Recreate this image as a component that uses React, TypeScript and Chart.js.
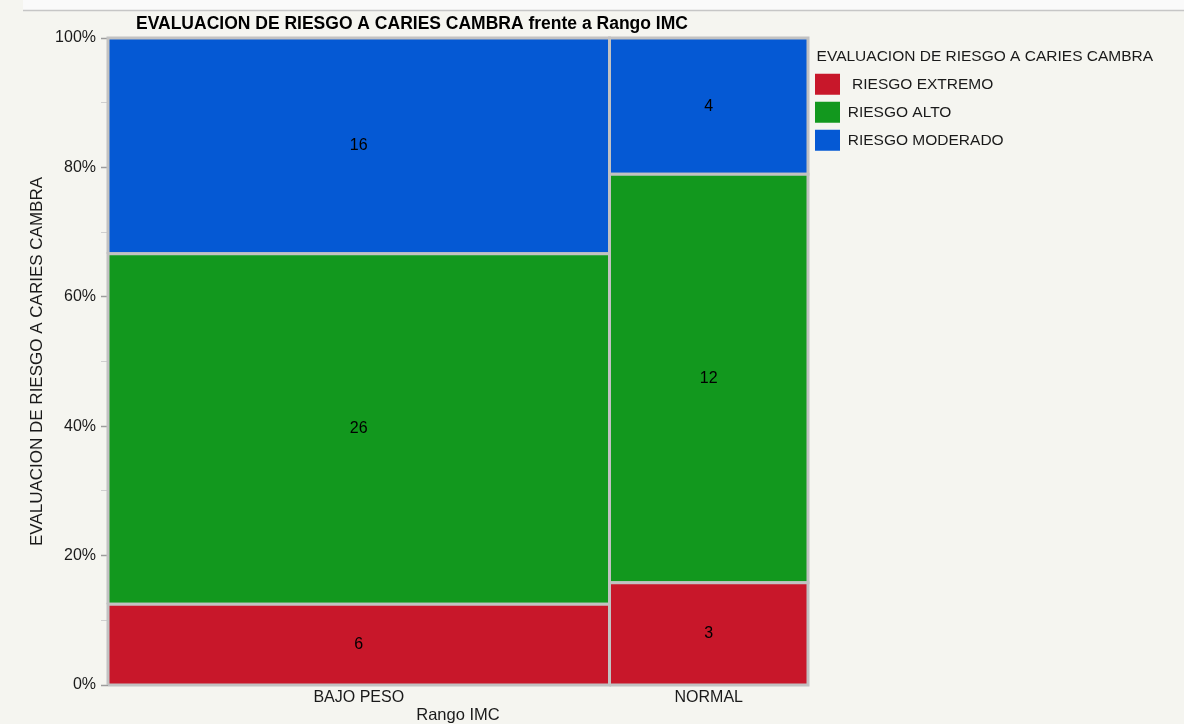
import { useEffect, useRef } from 'react';
import { Chart, registerables } from 'chart.js';

Chart.register(...registerables);

// ---- data ----
const chartTitle = 'EVALUACION DE RIESGO A CARIES CAMBRA frente a Rango IMC';
const xAxisTitle = 'Rango IMC';
const yAxisTitle = 'EVALUACION DE RIESGO A CARIES CAMBRA';
const legendTitle = 'EVALUACION DE RIESGO A CARIES CAMBRA';
const categories = ['BAJO PESO', 'NORMAL'];
const riskLevels = [' RIESGO EXTREMO', 'RIESGO ALTO', 'RIESGO MODERADO'];
const riesgoExtremo = [6, 3];
const riesgoAlto = [26, 12];
const riesgoModerado = [16, 4];
const riskColors = ['#c8172a', '#12981e', '#0559d4'];
const yTickValues = [0, 20, 40, 60, 80, 100];

const FONT = "'Liberation Sans', Arial, Helvetica, sans-serif";
const series = [riesgoExtremo, riesgoAlto, riesgoModerado];

type Cell = { x0: number; x1: number; y0: number; y1: number; count: number; level: number };

function buildCells(): { cells: Cell[]; centers: number[]; grand: number } {
  const totals = categories.map((_, i) => series.reduce((s, arr) => s + arr[i], 0));
  const grand = totals.reduce((a, b) => a + b, 0);
  const cells: Cell[] = [];
  const centers: number[] = [];
  let xCursor = 0;
  categories.forEach((_, i) => {
    const x0 = xCursor;
    const x1 = xCursor + totals[i];
    centers.push((x0 + x1) / 2);
    let yCursor = 0;
    series.forEach((arr, j) => {
      const pct = (arr[i] / totals[i]) * 100;
      cells.push({ x0, x1, y0: yCursor, y1: yCursor + pct, count: arr[i], level: j });
      yCursor += pct;
    });
    xCursor = x1;
  });
  return { cells, centers, grand };
}

export default function App() {
  const ref = useRef<HTMLCanvasElement>(null);

  useEffect(() => {
    document.body.style.margin = '0';
    document.body.style.background = '#f5f5f0';
    document.body.style.overflow = 'hidden';

    const { cells, centers, grand } = buildCells();

    const datasets = cells.map((c) => ({
      label: riskLevels[c.level],
      data: [
        { x: c.x0, y: c.y0 },
        { x: c.x1, y: c.y0 },
        { x: c.x1, y: c.y1 },
        { x: c.x0, y: c.y1 },
        { x: c.x0, y: c.y0 },
      ],
      showLine: true,
      fill: 'shape',
      backgroundColor: riskColors[c.level],
      borderColor: '#c2c2c2',
      borderWidth: 3,
      pointRadius: 0,
      tension: 0,
      clip: 4,
    }));

    const bgPlugin = {
      id: 'bgPlugin',
      beforeDraw(chart: any) {
        const { ctx, width, height } = chart;
        ctx.save();
        ctx.fillStyle = '#f5f5f0';
        ctx.fillRect(0, 0, width, height);
        ctx.fillStyle = '#fafafa';
        ctx.fillRect(23, 0, width - 23, 10);
        ctx.strokeStyle = '#c6c6c6';
        ctx.lineWidth = 1.5;
        ctx.beginPath();
        ctx.moveTo(23, 10.5);
        ctx.lineTo(width, 10.5);
        ctx.stroke();
        ctx.restore();
      },
    };

    // widen the legend box so its long title is not clipped
    const legendWidth = {
      id: 'legendWidth',
      beforeLayout(chart: any) {
        const lg = chart.legend;
        if (lg && !lg.__widened) {
          const orig = lg.fit.bind(lg);
          lg.fit = function () {
            orig();
            this.width = 376;
          };
          lg.__widened = true;
        }
      },
    };

    const titlePlugin = {
      id: 'titlePlugin',
      afterDraw(chart: any) {
        const { ctx } = chart;
        ctx.save();
        ctx.font = `bold 17.5px ${FONT}`;
        ctx.fillStyle = '#000000';
        ctx.textAlign = 'left';
        ctx.textBaseline = 'middle';
        ctx.fillText(chartTitle, 136, 24);
        ctx.restore();
      },
    };

    const cellLabels = {
      id: 'cellLabels',
      afterDatasetsDraw(chart: any) {
        const { ctx, scales } = chart;
        ctx.save();
        ctx.font = `16px ${FONT}`;
        ctx.fillStyle = '#000000';
        ctx.textAlign = 'center';
        ctx.textBaseline = 'middle';
        cells.forEach((c) => {
          const px = scales.x.getPixelForValue((c.x0 + c.x1) / 2);
          const py = scales.y.getPixelForValue((c.y0 + c.y1) / 2);
          ctx.fillText(String(c.count), px, py);
        });
        ctx.restore();
      },
    };

    const chart = new Chart(ref.current as HTMLCanvasElement, {
      type: 'scatter',
      data: { datasets: datasets as any },
      plugins: [bgPlugin, legendWidth, titlePlugin, cellLabels],
      options: {
        responsive: false,
        animation: false,
        events: [],
        layout: { padding: { top: 38, left: 0, bottom: 0, right: 0 } },
        plugins: {
          tooltip: { enabled: false },
          title: { display: false },
          legend: {
            display: true,
            position: 'right',
            align: 'start',
            fullSize: false,
            title: {
              display: true,
              text: '  ' + legendTitle,
              position: 'start',
              color: '#1a1a1a',
              font: { family: FONT, size: 15.5, lineHeight: 1 },
              padding: { top: 11.25, bottom: 2 },
            },
            labels: {
              boxWidth: 25,
              boxHeight: 21,
              padding: 7,
              color: '#1a1a1a',
              font: { family: FONT, size: 15.5 },
              generateLabels: () =>
                riskLevels.map((t, j) => ({
                  text: t,
                  fillStyle: riskColors[j],
                  strokeStyle: riskColors[j],
                  lineWidth: 0,
                  hidden: false,
                  datasetIndex: j,
                  fontColor: '#1a1a1a',
                })),
            },
          },
        },
        scales: {
          x: {
            type: 'linear',
            min: 0,
            max: grand,
            afterFit(scale: any) {
              scale.height = 39;
            },
            afterBuildTicks(scale: any) {
              scale.ticks = centers.map((v) => ({ value: v }));
            },
            grid: { display: false, drawTicks: false },
            border: { display: false },
            ticks: {
              autoSkip: false,
              maxRotation: 0,
              padding: 3,
              color: '#1a1a1a',
              font: { family: FONT, size: 16 },
              callback: (_v: any, i: number) => categories[i],
            },
            title: {
              display: true,
              text: xAxisTitle,
              color: '#1a1a1a',
              font: { family: FONT, size: 16.5, lineHeight: 1 },
              padding: { top: 1, bottom: 0 },
            },
          },
          y: {
            type: 'linear',
            min: 0,
            max: 100,
            afterFit(scale: any) {
              scale.width = 108;
            },
            afterBuildTicks(scale: any) {
              const vals: number[] = [];
              yTickValues.forEach((v, k) => {
                vals.push(v);
                if (k < yTickValues.length - 1) vals.push((v + yTickValues[k + 1]) / 2);
              });
              scale.ticks = vals.map((v) => ({ value: v }));
            },
            grid: {
              display: true,
              drawOnChartArea: false,
              drawTicks: true,
              tickLength: 7,
              tickColor: (ctx: any) =>
                ctx.tick && yTickValues.includes(ctx.tick.value) ? '#9c9c9c' : '#cfcfcf',
              tickWidth: (ctx: any) =>
                ctx.tick && yTickValues.includes(ctx.tick.value) ? 1.5 : 1,
            },
            border: { display: false },
            ticks: {
              autoSkip: false,
              padding: 5,
              color: '#1a1a1a',
              font: { family: FONT, size: 16 },
              callback: (v: any) => (yTickValues.includes(Number(v)) ? `${v}%` : ''),
            },
            title: {
              display: true,
              text: yAxisTitle,
              color: '#1a1a1a',
              font: { family: FONT, size: 17, lineHeight: 1 },
              padding: { top: 28.5, bottom: 0 },
            },
          },
        },
      } as any,
    });

    return () => chart.destroy();
  }, []);

  return (
    <div style={{ position: 'relative', width: 1184, height: 724 }}>
      <canvas ref={ref} width={1184} height={724} style={{ display: 'block', width: 1184, height: 724 }} />
    </div>
  );
}
